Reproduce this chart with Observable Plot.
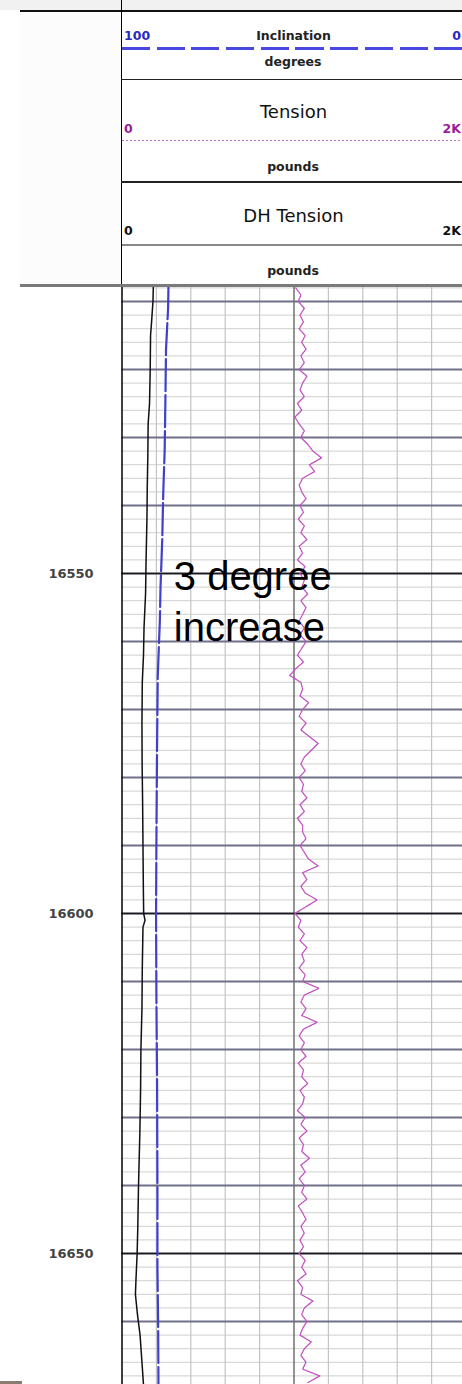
<!DOCTYPE html>
<html><head><meta charset="utf-8">
<script src="https://cdn.jsdelivr.net/npm/d3@7"></script>
<script src="https://cdn.jsdelivr.net/npm/@observablehq/plot@0.6"></script>
<style>
html,body{margin:0;padding:0;background:#fff;overflow:hidden}
#page{position:relative;width:462px;height:1384px;overflow:hidden;background:#fff}
.t{position:absolute;white-space:nowrap;line-height:0;font-family:"DejaVu Sans",sans-serif;color:#111}
.s{font-size:12.5px;font-weight:bold}
.b{font-size:18px}
.c{transform:translateX(-50%)}
.hl{position:absolute}
#track{position:absolute;left:0;top:287px;width:462px;height:1097px}
</style></head><body>
<div id="page">
  <div class="hl" style="left:0;top:0;width:462px;height:10px;background:#f1f1f1"></div>
  <div class="hl" style="left:20px;top:11px;width:101px;height:274px;background:#fcfcfc"></div>
  <div class="hl" style="left:20px;top:9.8px;width:442px;height:2.5px;background:#111"></div>
  <div class="hl" style="left:120.8px;top:0;width:1.5px;height:287px;background:#000"></div>

  <span class="t s" style="left:124px;top:36.4px;color:#2828c8">100</span>
  <span class="t s c" style="left:293.5px;top:36.4px;color:#222">Inclination</span>
  <span class="t s" style="right:1px;top:36.4px;color:#2828c8">0</span>
  <div class="hl" style="left:121.5px;top:47.2px;width:341px;height:2.5px;background:repeating-linear-gradient(to right,#4848e0 0 28px,transparent 28px 34.7px)"></div>
  <span class="t s c" style="left:293px;top:62.4px;color:#222">degrees</span>
  <div class="hl" style="left:121px;top:78.5px;width:341px;height:1.6px;background:#222"></div>

  <span class="t b c" style="left:293.5px;top:112.1px">Tension</span>
  <span class="t s" style="left:124px;top:129px;color:#9a1a9a">0</span>
  <span class="t s" style="right:1px;top:129px;color:#9a1a9a">2K</span>
  <div class="hl" style="left:121.5px;top:140.2px;width:341px;height:1px;background:repeating-linear-gradient(to right,#c070d0 0 2px,transparent 2px 4px)"></div>
  <span class="t s c" style="left:293px;top:166.7px;color:#222">pounds</span>
  <div class="hl" style="left:121px;top:181px;width:341px;height:1.6px;background:#222"></div>

  <span class="t b c" style="left:293.5px;top:215.5px">DH Tension</span>
  <span class="t s" style="left:124px;top:230.7px">0</span>
  <span class="t s" style="right:1px;top:230.7px">2K</span>
  <div class="hl" style="left:121.5px;top:244px;width:341px;height:2px;background:#888"></div>
  <span class="t s c" style="left:293px;top:270.7px;color:#222">pounds</span>
  <div class="hl" style="left:20px;top:284.3px;width:442px;height:2.5px;background:#7a7a7a"></div>

  <div id="track"></div>
  <div class="hl" style="left:0;top:1381px;width:22px;height:3px;background:#8c7b73"></div>
</div>
<script>
const depthLabels = [16550, 16600, 16650];
const gridLbs = [200, 400, 600, 800, 1200, 1400, 1600, 1800];
const centerLbs = [1000];

// Inclination (degrees, scale 100 -> 0 across track)
const incDepth = [16507.9, 16511, 16517, 16525, 16532, 16538, 16545, 16552, 16557, 16565, 16575, 16590, 16600, 16612, 16625, 16640, 16652, 16660, 16669.3];
const incDeg   = [86.5, 86.6, 87.2, 87.4, 87.6, 88.0, 88.3, 88.8, 89.0, 89.6, 89.8, 90.0, 90.1, 90.0, 89.8, 89.7, 89.7, 89.5, 89.4];

// DH Tension (pounds, 0 -> 2K)
const dhDepth = [16507.9, 16510, 16513, 16515, 16520, 16525, 16528, 16533, 16537, 16542, 16548, 16553, 16558, 16562, 16566, 16572, 16578, 16584, 16590, 16596, 16600, 16601, 16602, 16608, 16614, 16620, 16626, 16632, 16640, 16646, 16650, 16654, 16656, 16659, 16662, 16666, 16669.3];
const dhLbs   = [182, 180, 172, 166, 164, 160, 152, 150, 147, 145, 140, 137, 128, 125, 118, 116, 117, 120, 122, 124, 126, 134, 122, 118, 116, 110, 108, 104, 96, 92, 88, 81, 78, 90, 105, 116, 125];

// Tension (pounds, 0 -> 2K), one reading per foot from 16508 ft
const tensionStart = 16508;
const tensionLbs = [
  1010, 1040, 1025, 1060, 1035, 1055, 1030, 1065, 1045, 1070,
  1040, 1060, 1030, 1075, 1050, 1035, 1060, 1020, 1045, 1005,
  1030, 1060, 1040, 1080, 1110, 1160, 1090, 1120, 1050, 1030,
  1045, 1070, 1035, 1055, 1025, 1060, 1040, 1075, 1030, 1050,
  1020, 1065, 1035, 1060, 1045, 1080, 1040, 1070, 1050, 1030,
  1060, 1035, 1070, 1045, 1020, 1055, 1010, 975, 1040, 1050,
  1035, 1085, 1050, 1030, 1070, 1040, 1090, 1140, 1100, 1060,
  1040, 1065, 1030, 1055, 1045, 1075, 1035, 1060, 1020, 1050,
  1050, 1070, 1035, 1060, 1085, 1140, 1050, 1075, 1040, 1065,
  1135, 1070, 1005, 1040, 1025, 1060, 1035, 1075, 1045, 1060,
  1030, 1065, 1050, 1145, 1060, 1040, 1070, 1045, 1135, 1055,
  1030, 1060, 1040, 1070, 1025, 1055, 1045, 1080, 1035, 1060,
  1050, 1020, 1065, 1040, 1075, 1030, 1055, 1045, 1090, 1040,
  1065, 1030, 1060, 1045, 1075, 1025, 1050, 1070, 1040, 1060,
  1035, 1055, 1030, 1065, 1045, 1070, 1020, 1050, 1040, 1110,
  1060, 1045, 1075, 1050, 1035, 1100, 1060, 1040, 1070, 1050,
  1150, 1080
];

const annotationText = "3 degree\nincrease";

// ---- tables built from the arrays ----
const incTable = incDepth.map((d, i) => ({depth: d, inc: incDeg[i]}));
const dhTable = dhDepth.map((d, i) => ({depth: d, lbs: dhLbs[i]}));
const tensionTable = tensionLbs.map((v, i) => ({depth: tensionStart + i, lbs: v}));
const minorDepths = d3.range(16508, 16670, 2);
const majorDepths = d3.range(16510, 16670, 10);
const incToLbs = d3.scaleLinear().domain([100, 0]).range([0, 2000]);

const H = 1097;
const chart = Plot.plot({
  width: 462, height: H,
  marginLeft: 121.5, marginRight: 0, marginTop: 0, marginBottom: 0,
  x: {domain: [0, 2000], range: [121.5, 465.5], axis: null},
  y: {domain: [16507.94, 16507.94 + H / 6.8], range: [0, H], axis: null},
  style: {background: "white", overflow: "hidden"},
  marks: [
    Plot.ruleY(minorDepths, {stroke: "#cdd0cd", strokeWidth: 1}),
    Plot.ruleX(gridLbs, {stroke: "#c4c4c4", strokeWidth: 1.2}),
    Plot.ruleX(centerLbs, {stroke: "#666", strokeWidth: 1.4}),
    Plot.ruleY(majorDepths, {stroke: "#70708a", strokeWidth: 2}),
    Plot.ruleY(depthLabels, {stroke: "#1a1a1a", strokeWidth: 1.6}),
    Plot.ruleX([0], {stroke: "#000", strokeWidth: 1.5}),
    Plot.line(tensionTable, {x: "lbs", y: "depth", stroke: "#c050c0", strokeWidth: 1.3, strokeDasharray: "1.5 1"}),
    Plot.line(dhTable, {x: "lbs", y: "depth", stroke: "#111", strokeWidth: 1.5}),
    Plot.line(incTable, {x: d => incToLbs(d.inc), y: "depth", stroke: "#4040cc", strokeWidth: 2.2, strokeDasharray: "32 4"}),
    Plot.text(depthLabels, {y: d => d, text: d => String(d), frameAnchor: "left", dx: -51, textAnchor: "middle",
      fontSize: 13, fontWeight: "bold", fontFamily: "DejaVu Sans", fill: "#444"}),
    Plot.text([annotationText], {x: 301, y: 16547.06, text: d => d, textAnchor: "start", lineAnchor: "top",
      fontSize: 40, fontFamily: "Liberation Sans, Arial, sans-serif", lineHeight: 1.275, fill: "#000"})
  ]
});
document.getElementById("track").appendChild(chart);
</script>
</body></html>
